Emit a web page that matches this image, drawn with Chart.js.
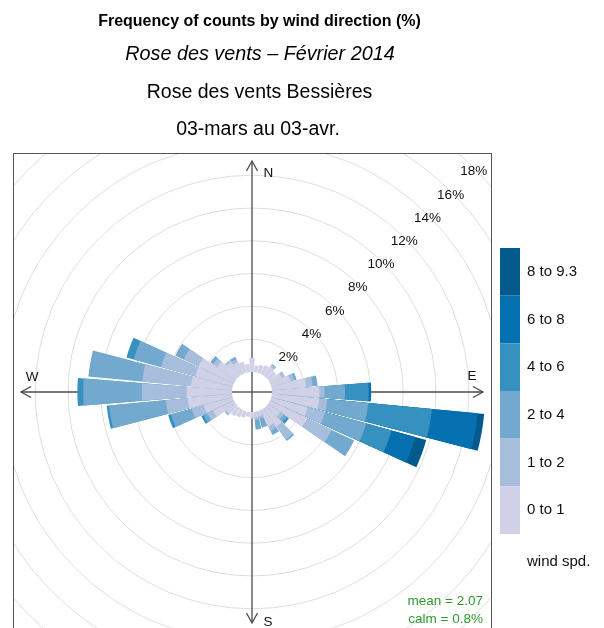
<!DOCTYPE html>
<html>
<head>
<meta charset="utf-8">
<script src="https://cdn.jsdelivr.net/npm/chart.js@4.4.1/dist/chart.umd.min.js"></script>
<style>
  html, body { margin: 0; padding: 0; background: #ffffff; }
  #wrap { width: 604px; height: 628px; position: relative; }
</style>
</head>
<body>
<div id="wrap"><canvas id="rose" width="604" height="628"></canvas></div>
<script>
// Wind directions (degrees, centre of each 10° sector)
const directions = [10, 20, 30, 40, 50, 60, 70, 80, 90, 100, 110, 120,
                    130, 140, 150, 160, 170, 180, 190, 200, 210, 220, 230, 240,
                    250, 260, 270, 280, 290, 300, 310, 320, 330, 340, 350, 360];

// Wind speed classes and their colours
const speedBins = ['0 to 1', '1 to 2', '2 to 4', '4 to 6', '6 to 8', '8 to 9.3'];
const binColours = ['#d0d1e6', '#a6bddb', '#74a9cf', '#3690c0', '#0570b0', '#045a8d'];

// Frequency of counts (%) per direction, one array per speed class
const freq0to1 = [0.4, 0.5, 0.6, 0.7, 0.6, 0.8, 1.2, 2.1, 2.9, 2.9, 2.3, 2.5,
                  0.9, 1.36, 1.1, 0.3, 0.35, 0.4, 0.3, 0.4, 0.5, 0.6, 0.7, 1.4,
                  1.83, 2.72, 2.76, 2.51, 2.37, 2.4, 1.4, 1.0, 0.8, 0.7, 0.5, 0.87];
const freq1to2 = [0, 0, 0, 0.2, 0, 0.2, 0.25, 0.4, 0.3, 0.5, 1.1, 1.65,
                  0.25, 0.98, 0.3, 0.15, 0.15, 0, 0, 0, 0, 0, 0.15, 0.4,
                  0.76, 1.34, 2.74, 2.99, 2.16, 1.0, 0.3, 0.15, 0.2, 0, 0, 0];
const freq2to4 = [0, 0, 0, 0, 0, 0, 0.15, 0.3, 1.25, 2.5, 2.6, 1.52,
                  0.25, 0.1, 0.28, 0.59, 0.58, 0, 0, 0, 0, 0, 0, 0.25,
                  1.31, 3.47, 3.57, 3.3, 1.73, 0.55, 0.2, 0, 0.16, 0, 0, 0];
const freq4to6 = [0, 0, 0, 0, 0, 0, 0, 0, 1.45, 3.9, 1.6, 0,
                  0.15, 0, 0, 0, 0, 0, 0, 0, 0, 0, 0, 0.15,
                  0.18, 0.15, 0.36, 0, 0.46, 0, 0, 0, 0, 0, 0, 0];
const freq6to8 = [0, 0, 0, 0, 0, 0, 0, 0, 0.15, 2.8, 1.5, 0,
                  0, 0, 0, 0, 0, 0, 0, 0, 0, 0, 0, 0,
                  0, 0, 0, 0, 0, 0, 0, 0, 0, 0, 0, 0];
const freq8to9 = [0, 0, 0, 0, 0, 0, 0, 0, 0, 0.4, 0.7, 0,
                  0, 0, 0, 0, 0, 0, 0, 0, 0, 0, 0, 0,
                  0, 0, 0, 0, 0, 0, 0, 0, 0, 0, 0, 0];

// Grid rings and their labels (%)
const ringValues = [2, 4, 6, 8, 10, 12, 14, 16, 18, 20, 22];
const ringLabels = [2, 4, 6, 8, 10, 12, 14, 16, 18];

const meanSpeed = 2.07;
const calmPercent = 0.8;

// ---------------------------------------------------------------------------
const bands = [freq0to1, freq1to2, freq2to4, freq4to6, freq6to8, freq8to9];
const FONT = "'Liberation Sans', Arial, Helvetica, sans-serif";

// geometry of the rose
const centre = { x: 252, y: 392 };
const panel = { left: 13, top: 153, right: 491, bottom: 634 };
const pxPerPercent = 16.4;
const holeRadius = 20;
const rMin = -holeRadius / pxPerPercent;
const rMax = 24;
const axisLength = 231;
const sector = 10;
const gapAngle = 0.8;
const wedgeAngle = sector - gapAngle;

// cumulative totals so each speed class is stacked on the previous ones
const cumulative = bands.map((_, k) =>
  directions.map((_, d) => bands.slice(0, k + 1).reduce((s, b) => s + b[d], 0)));

// each sector is followed by a thin empty slot that separates the wedges
const labels = [];
directions.forEach(d => { labels.push(d + '°'); labels.push(''); });

const datasets = bands.map((band, k) => ({
  label: speedBins[k],
  data: cumulative[k].flatMap(v => [v, 0]),
  borderWidth: 0,
  angle: ctx => (ctx.dataIndex % 2 ? gapAngle : wedgeAngle),
  backgroundColor: ctx => {
    if (ctx.dataIndex % 2) return 'rgba(0,0,0,0)';
    return band[ctx.dataIndex / 2] > 0 ? binColours[k] : 'rgba(0,0,0,0)';
  }
}));

function drawAxes(ctx, cx, cy, len, withHeads) {
  ctx.save();
  ctx.strokeStyle = '#4a4a4a';
  ctx.lineWidth = 1.3;
  const dirs = [[0, -1], [1, 0], [0, 1], [-1, 0]];
  dirs.forEach(([dx, dy]) => {
    ctx.beginPath();
    ctx.moveTo(cx, cy);
    ctx.lineTo(cx + dx * len, cy + dy * len);
    ctx.stroke();
    if (withHeads) {
      const tx = cx + dx * len, ty = cy + dy * len;
      const px = -dy, py = dx;
      ctx.beginPath();
      ctx.moveTo(tx - dx * 10 + px * 5.5, ty - dy * 10 + py * 5.5);
      ctx.lineTo(tx, ty);
      ctx.lineTo(tx - dx * 10 - px * 5.5, ty - dy * 10 - py * 5.5);
      ctx.stroke();
    }
  });
  ctx.restore();
}

const roseDecor = {
  id: 'roseDecor',
  beforeDraw(chart) {
    const ctx = chart.ctx;
    ctx.save();
    ctx.beginPath();
    ctx.rect(panel.left, panel.top, panel.right - panel.left, panel.bottom - panel.top);
    ctx.clip();
  },
  beforeDatasetsDraw(chart) {
    const r = chart.scales.r;
    drawAxes(chart.ctx, r.xCenter, r.yCenter, axisLength, true);
  },
  afterDatasetsDraw(chart) {
    const ctx = chart.ctx;
    const r = chart.scales.r;
    const hole = r.getDistanceFromCenterForValue(0);
    ctx.save();
    ctx.fillStyle = '#ffffff';
    ctx.beginPath();
    ctx.arc(r.xCenter, r.yCenter, hole, 0, Math.PI * 2);
    ctx.fill();
    ctx.restore();
    drawAxes(ctx, r.xCenter, r.yCenter, hole, false);
    ctx.restore(); // end of panel clip
  },
  afterDraw(chart) {
    const ctx = chart.ctx;
    const r = chart.scales.r;
    ctx.save();

    // panel frame
    ctx.strokeStyle = '#555555';
    ctx.lineWidth = 1;
    ctx.strokeRect(panel.left + 0.5, panel.top + 0.5, panel.right - panel.left, panel.bottom - panel.top);

    // ring labels along the diagonal
    ctx.fillStyle = '#111111';
    ctx.font = '13.5px ' + FONT;
    ctx.textAlign = 'center';
    ctx.textBaseline = 'middle';
    const a = Math.PI / 4;
    ringLabels.forEach(v => {
      const d = r.getDistanceFromCenterForValue(v) - 1.5;
      ctx.fillText(v + '%', r.xCenter + d * Math.cos(a), r.yCenter - d * Math.sin(a) + 1.5);
    });

    // compass letters
    ctx.textAlign = 'left';
    ctx.fillText('N', r.xCenter + 11.5, r.yCenter - 219);
    ctx.fillText('S', r.xCenter + 11.5, r.yCenter + 230);
    ctx.textAlign = 'center';
    ctx.fillText('E', r.xCenter + 220, r.yCenter - 16);
    ctx.fillText('W', r.xCenter - 220, r.yCenter - 15);

    // mean / calm
    ctx.fillStyle = '#2e9a2e';
    ctx.textAlign = 'right';
    ctx.fillText('mean = ' + meanSpeed.toFixed(2), 483, 601);
    ctx.fillText('calm = ' + calmPercent + '%', 483, 619);

    // colour key
    const keyTop = 248, keyH = 47.67, keyX = 500, keyW = 20;
    ctx.font = '15px ' + FONT;
    ctx.fillStyle = '#111111';
    ctx.textAlign = 'left';
    for (let i = 0; i < speedBins.length; i++) {
      const k = speedBins.length - 1 - i;
      const y = keyTop + i * keyH;
      ctx.fillStyle = binColours[k];
      ctx.fillRect(keyX, y, keyW, keyH);
      ctx.fillStyle = '#111111';
      ctx.fillText(speedBins[k], 527, y + keyH / 2);
    }
    ctx.fillText('wind spd.', 527, 562);

    // headings
    ctx.textAlign = 'center';
    ctx.fillStyle = '#000000';
    ctx.font = 'bold 16px ' + FONT;
    ctx.fillText('Frequency of counts by wind direction (%)', 259.5, 22);
    ctx.font = 'italic 19.8px ' + FONT;
    ctx.fillText('Rose des vents \u2013 F\u00e9vrier 2014', 260, 54.5);
    ctx.font = '19.5px ' + FONT;
    ctx.fillText('Rose des vents Bessi\u00e8res', 259.5, 92.5);
    ctx.fillText('03-mars au 03-avr.', 258, 129.5);
    ctx.restore();
  }
};

new Chart(document.getElementById('rose'), {
  type: 'polarArea',
  data: { labels, datasets },
  options: {
    responsive: false,
    animation: false,
    events: [],
    layout: { padding: 0 },
    plugins: {
      legend: { display: false },
      tooltip: { enabled: false }
    },
    scales: {
      r: {
        min: rMin,
        max: rMax,
        startAngle: directions[0] - wedgeAngle / 2,
        ticks: { display: false },
        grid: { color: '#dedede', lineWidth: 1 },
        angleLines: { display: false },
        pointLabels: { display: false },
        afterBuildTicks: scale => { scale.ticks = ringValues.map(v => ({ value: v })); },
        afterFit: scale => {
          scale.xCenter = centre.x;
          scale.yCenter = centre.y;
          scale.drawingArea = pxPerPercent * (scale.max - scale.min);
        }
      }
    }
  },
  plugins: [roseDecor]
});
</script>
</body>
</html>
